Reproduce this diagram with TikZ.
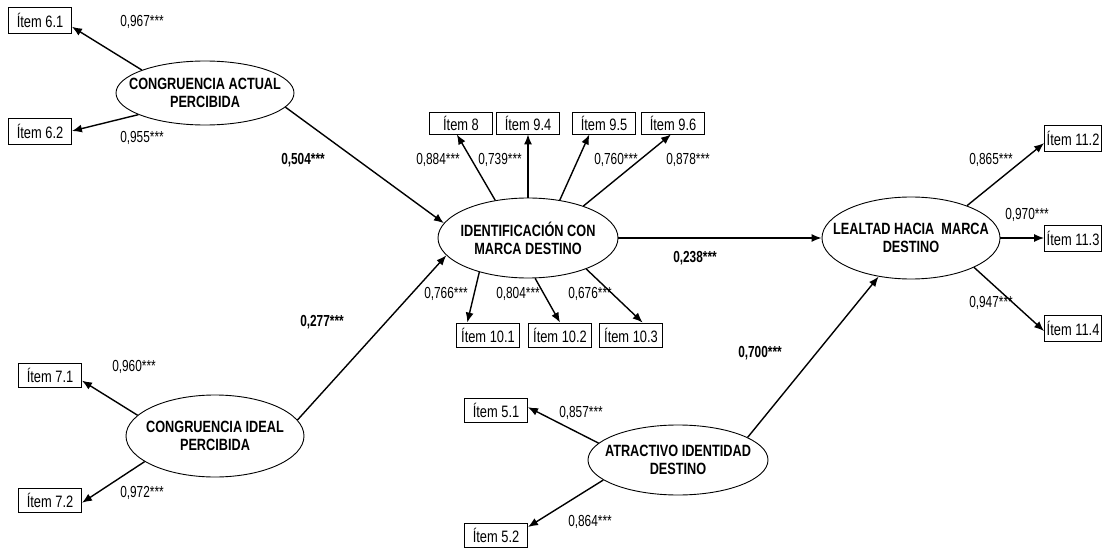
\documentclass[tikz,border=0pt]{standalone}
\usepackage{fontspec}
\setmainfont{Liberation Sans}[FakeStretch=0.78]
\newfontfamily\coeffont{Liberation Sans}[FakeStretch=0.74]
\usetikzlibrary{shapes.geometric,arrows.meta}
\newcommand\stars{***}
\begin{document}
\begin{tikzpicture}[x=1pt,y=-1pt,
  latent/.style={ellipse,draw,line width=0.9pt,inner sep=0pt},
  lattext/.style={font=\fontsize{16.3}{18}\selectfont\bfseries,align=center,inner sep=0pt},
  itembox/.style={rectangle,draw,line width=0.9pt,minimum width=63pt,minimum height=24pt,inner sep=2pt,font=\fontsize{16.5}{18}\selectfont},
  coef/.style={font=\coeffont\fontsize{16}{18}\selectfont,inner sep=0pt},
  pcoef/.style={font=\coeffont\fontsize{16}{18}\selectfont\bfseries,inner sep=0pt},
  link/.style={line width=1.4pt,-{Latex[length=10pt,width=8pt]}}
]
\useasboundingbox[fill=white] (0,0) rectangle (1103,548);

% latent constructs
\node[latent,minimum width=178pt,minimum height=64pt] (ca) at (205,93) {};
\node[lattext] (ca-t) at (ca) {CONGRUENCIA ACTUAL\\PERCIBIDA};
\node[latent,minimum width=178pt,minimum height=82pt] (ci) at (215,436) {};
\node[lattext] (ci-t) at (ci) {CONGRUENCIA IDEAL\\PERCIBIDA};
\node[latent,minimum width=180pt,minimum height=80pt] (id) at (528,238) {};
\node[lattext] (id-t) at (id) {IDENTIFICACIÓN CON\\MARCA DESTINO};
\node[latent,minimum width=178pt,minimum height=82pt] (le) at (911,238) {};
\node[lattext] (le-t) at (le) {LEALTAD HACIA \ MARCA\\DESTINO};
\node[latent,minimum width=180pt,minimum height=70pt] (at) at (678,460) {};
\node[lattext] (at-t) at (at) {ATRACTIVO IDENTIDAD\\DESTINO};

% observed items
\node[itembox,minimum height=26pt] (i61) at (40,20) {Ítem 6.1};
\node[itembox,minimum height=26pt] (i62) at (40,131) {Ítem 6.2};
\node[itembox] (i71) at (50,375) {Ítem 7.1};
\node[itembox] (i72) at (50,500) {Ítem 7.2};
\node[itembox] (i51) at (496,410) {Ítem 5.1};
\node[itembox] (i52) at (496,535) {Ítem 5.2};
\node[itembox,minimum height=22pt] (i8) at (461,123) {Ítem 8};
\node[itembox,minimum height=22pt] (i94) at (528,123) {Ítem 9.4};
\node[itembox,minimum height=22pt] (i95) at (604,123) {Ítem 9.5};
\node[itembox,minimum height=22pt] (i96) at (673,123) {Ítem 9.6};
\node[itembox] (i101) at (488,335) {Ítem 10.1};
\node[itembox] (i102) at (560,335) {Ítem 10.2};
\node[itembox] (i103) at (631,335) {Ítem 10.3};
\node[itembox,minimum width=57pt,minimum height=26pt,anchor=east] (i112) at (1102,138) {Ítem 11.2};
\node[itembox,minimum width=57pt,minimum height=26pt,anchor=east] (i113) at (1102,238) {Ítem 11.3};
\node[itembox,minimum width=57pt,minimum height=26pt,anchor=east] (i114) at (1102,328) {Ítem 11.4};

% loadings and paths
\draw[link] (ca.160) -- (i61.-12);
\draw[link] (ca.198) -- (i62.east);
\draw[link] (ca.-10) -- (id.170);
\draw[link] (ci.11) -- (id.192);
\draw[link] (ci.165) -- (i71.-10);
\draw[link] (ci.200) -- (i72.-5);
\draw[link] (id.131) -- (i8.-110);
\draw[link] (id.north) -- (i94.south);
\draw[link] (id.50) -- (i95.-142);
\draw[link] (id.30) -- (i96.-100);
\draw[link] (id.215) -- (i101.149);
\draw[link] (id.-80) -- (i102.north);
\draw[link] (id.-28) -- (i103.47);
\draw[link] (id.east) -- (le.west);
\draw[link] (at.18) -- (le.230);
\draw[link] (at.168) -- (i51.5);
\draw[link] (at.195) -- (i52.14);
\draw[link] (le.30) -- (i112.190);
\draw[link] (le.east) -- (i113.west);
\draw[link] (le.-25) -- (i114.186);

% coefficients
\node[coef] (c61) at (142,22) {0,967\stars};
\node[coef] (c62) at (142,138) {0,955\stars};
\node[coef] (c71) at (134,367) {0,960\stars};
\node[coef] (c72) at (142,493) {0,972\stars};
\node[coef] (c8) at (438,160) {0,884\stars};
\node[coef] (c94) at (500,160) {0,739\stars};
\node[coef] (c95) at (616,160) {0,760\stars};
\node[coef] (c96) at (688,160) {0,878\stars};
\node[coef] (c101) at (446,294) {0,766\stars};
\node[coef] (c102) at (518,294) {0,804\stars};
\node[coef] (c103) at (590,294) {0,676\stars};
\node[coef] (c112) at (991,160) {0,865\stars};
\node[coef] (c113) at (1027,215) {0,970\stars};
\node[coef] (c114) at (991,303) {0,947\stars};
\node[coef] (c51) at (581,413) {0,857\stars};
\node[coef] (c52) at (590,522) {0,864\stars};
\node[pcoef] (pca) at (303,160) {0,504\stars};
\node[pcoef] (pci) at (322,322) {0,277\stars};
\node[pcoef] (pid) at (695,258) {0,238\stars};
\node[pcoef] (pat) at (760,353) {0,700\stars};
\end{tikzpicture}
\end{document}
